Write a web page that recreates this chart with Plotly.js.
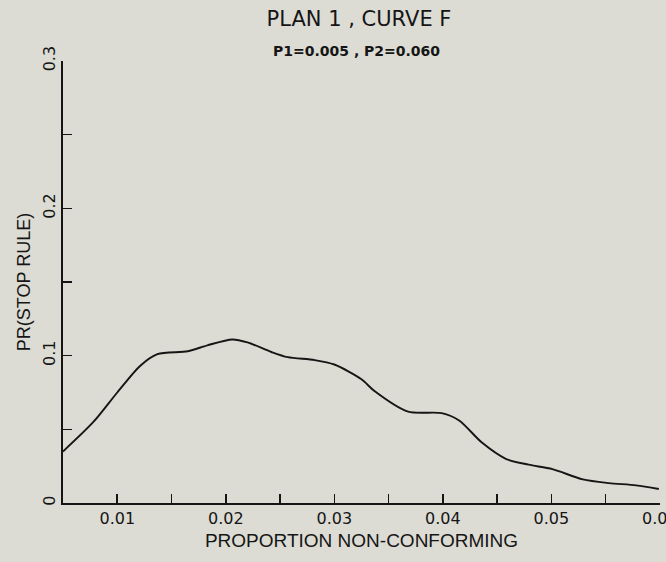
<!DOCTYPE html>
<html>
<head>
<meta charset="utf-8">
<script src="https://cdn.plot.ly/plotly-3.0.1.min.js"></script>
<style>
  html, body { margin: 0; padding: 0; background: #dcdcd4; }
  #chart { width: 666px; height: 562px; }
</style>
</head>
<body>
<div id="chart"></div>
<script>
// Curve F
const proportion = [0.0050, 0.0078, 0.0100, 0.0121, 0.0137, 0.0165, 0.0183, 0.0206, 0.0220, 0.0242, 0.0257, 0.0282, 0.0300, 0.0325, 0.0337, 0.0368, 0.0399, 0.0415, 0.0436, 0.0458, 0.0479, 0.0501, 0.0529, 0.0553, 0.0578, 0.0599];
const prStop     = [0.035, 0.055, 0.075, 0.093, 0.101, 0.103, 0.107, 0.111, 0.109, 0.1025, 0.099, 0.097, 0.094, 0.084, 0.076, 0.062, 0.061, 0.056, 0.041, 0.030, 0.026, 0.023, 0.016, 0.0135, 0.012, 0.0095];

const xTickVals = [0.01, 0.02, 0.03, 0.04, 0.05, 0.06];
const xTickText = ['0.01', '0.02', '0.03', '0.04', '0.05', '0.06'];
const yTickVals = [0, 0.1, 0.2, 0.3];
const yTickText = ['0', '0.1', '0.2', '0.3'];

const titleText = 'PLAN 1 , CURVE F';
const subtitleText = 'P1=0.005 , P2=0.060';
const xTitle = 'PROPORTION NON-CONFORMING';
const yTitle = 'PR(STOP RULE)';

const ink = '#151515';
const fontA = 'Liberation Sans, Arial, sans-serif';
const fontD = 'DejaVu Sans, sans-serif';

const trace = {
  x: proportion,
  y: prStop,
  type: 'scatter',
  mode: 'lines',
  line: { color: ink, width: 1.9, shape: 'spline', smoothing: 0.8 },
  hoverinfo: 'skip'
};

const layout = {
  width: 666,
  height: 562,
  paper_bgcolor: '#dcdcd4',
  plot_bgcolor: '#dcdcd4',
  margin: { l: 63, r: 6, t: 61, b: 59 },
  showlegend: false,
  title: {
    text: titleText,
    font: { family: fontD, size: 21, color: ink },
    x: 359 / 666, xanchor: 'center',
    y: 1 - 19 / 562, yanchor: 'middle', yref: 'container'
  },
  annotations: [{
    text: subtitleText,
    xref: 'paper', yref: 'paper',
    x: (356 - 63) / 597, y: (503 - 50.5) / 442,
    xanchor: 'center', yanchor: 'middle',
    showarrow: false,
    font: { family: fontD, size: 14, color: ink, weight: 'bold' }
  }],
  xaxis: {
    range: [0.005, 0.06001],
    tickmode: 'array',
    tickvals: xTickVals,
    ticktext: xTickText,
    ticks: 'inside',
    ticklen: 9,
    tickwidth: 1.6,
    tickcolor: ink,
    ticklabeloverflow: 'allow',
    minor: { dtick: 0.005, tick0: 0, ticks: 'inside', ticklen: 9, tickwidth: 1.6, tickcolor: ink },
    showline: true,
    linecolor: ink,
    linewidth: 2,
    showgrid: false,
    zeroline: false,
    automargin: false,
    tickfont: { family: fontD, size: 16, color: ink },
    title: { text: xTitle, font: { family: fontA, size: 19, color: ink }, standoff: 6 }
  },
  yaxis: {
    range: [0, 0.30001],
    tickmode: 'array',
    tickvals: yTickVals,
    ticktext: yTickText,
    tickangle: -90,
    ticks: 'inside',
    ticklen: 9,
    tickwidth: 1.6,
    tickcolor: ink,
    minor: { dtick: 0.05, tick0: 0, ticks: 'inside', ticklen: 9, tickwidth: 1.6, tickcolor: ink },
    showline: true,
    linecolor: ink,
    linewidth: 2,
    showgrid: false,
    zeroline: false,
    automargin: false,
    tickfont: { family: fontD, size: 16, color: ink },
    title: { text: yTitle, font: { family: fontA, size: 18, color: ink }, standoff: 4 }
  }
};

Plotly.newPlot('chart', [trace], layout, { staticPlot: true, displayModeBar: false });
</script>
</body>
</html>
